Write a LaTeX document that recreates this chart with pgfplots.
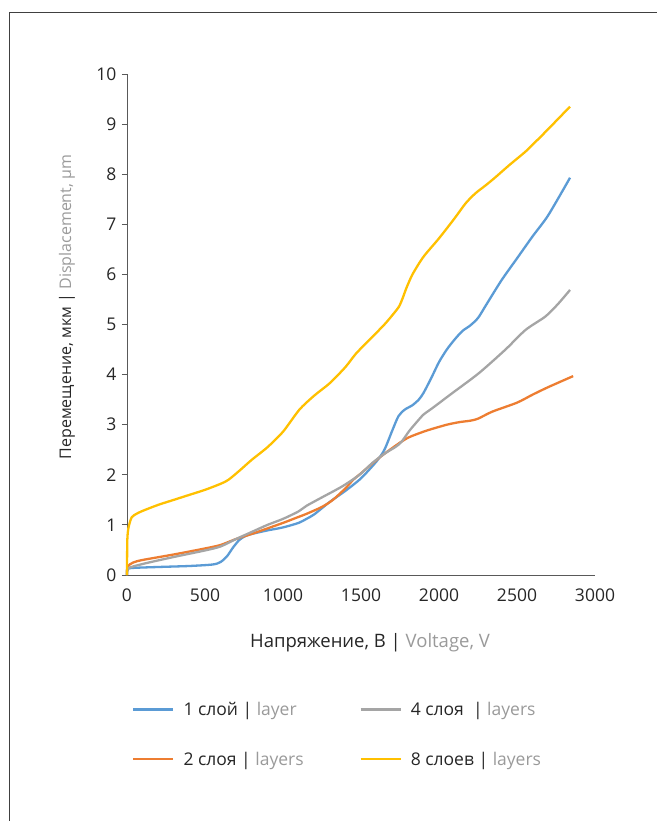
\documentclass[border=0pt]{standalone}
\usepackage{pgfplots}
\pgfplotsset{compat=1.18}
\usepackage{fontspec}
\setmainfont{Open Sans}
\definecolor{c1}{HTML}{5B9BD5}
\definecolor{c2}{HTML}{ED7D31}
\definecolor{c4}{HTML}{A5A5A5}
\definecolor{c8}{HTML}{FFC000}
\definecolor{txt}{HTML}{262626}
\definecolor{ltxt}{HTML}{9A9A9A}
\definecolor{axc}{HTML}{595959}
\begin{document}
\begin{tikzpicture}
\path[use as bounding box] (0pt,0pt) rectangle (656pt,-821pt);
\draw[black!75, line width=1pt] (9.5pt,-830pt) -- (9.5pt,-13pt) -- (670pt,-13pt);
\begin{axis}[
  at={(127pt,-575pt)}, anchor=south west,
  scale only axis, width=468pt, height=501pt,
  xmin=0, xmax=3000, ymin=0, ymax=10,
  axis x line*=bottom, axis y line*=left,
  axis line style={axc, line width=1pt},
  xtick={0,500,...,3000}, ytick={0,1,...,10},
  xtick style={draw=none},
  ytick style={axc, line width=1pt},
  tick align=outside, major tick length=5pt,
  tick label style={font=\fontsize{17.5}{20}\selectfont, text=txt},
  /pgf/number format/assume math mode=true,
  /pgf/number format/1000 sep={},
  scaled ticks=false,
  xticklabel style={yshift=-5pt},
  yticklabel style={xshift=-2pt},
  clip=false,
  every axis plot/.append style={line width=2.3pt, smooth, tension=0.45},
  legend image code/.code={\draw[#1] (0pt,0pt) -- (40pt,0pt); \path (49pt,0pt);},
  legend columns=2,
  legend style={draw=none, fill=none, at={(axis description cs:0.0107,-0.253)}, anchor=north west,
    font=\fontsize{17.5}{20}\selectfont, text=txt, inner sep=0pt, row sep=35pt, column sep=0pt,
    nodes={inner sep=0pt, anchor=west}},
  legend cell align=left,
]
\addplot[c1, forget plot] coordinates {
(0,0) (5,0.11) (30,0.14) (200,0.16) (400,0.18) (550,0.21) (600,0.26) (640,0.37)
(680,0.55) (720,0.70) (760,0.78) (800,0.82) (900,0.89) (1000,0.95) (1100,1.04)
(1150,1.12) (1200,1.21) (1300,1.46) (1400,1.68) (1500,1.93) (1600,2.27) (1650,2.50)
(1700,2.88) (1740,3.17) (1780,3.30) (1830,3.39) (1870,3.50) (1900,3.63) (1950,3.93)
(2000,4.25) (2050,4.50) (2100,4.70) (2150,4.87) (2200,4.98) (2250,5.13) (2300,5.38)
(2400,5.88) (2500,6.32) (2600,6.76) (2700,7.18) (2840,7.93)};
\addplot[c2, forget plot] coordinates {
(0,0) (5,0.17) (40,0.25) (100,0.30) (300,0.41) (500,0.53) (600,0.60) (700,0.72)
(800,0.82) (900,0.93) (1000,1.04) (1100,1.16) (1150,1.22) (1250,1.36) (1320,1.50)
(1400,1.73) (1450,1.90) (1500,2.03) (1574,2.23) (1650,2.42) (1744,2.63) (1808,2.75)
(1900,2.86) (1960,2.92) (2050,3.00) (2128,3.05) (2200,3.08) (2250,3.12) (2341,3.26)
(2500,3.44) (2600,3.60) (2700,3.75) (2860,3.97)};
\addplot[c4, forget plot] coordinates {
(0,0) (5,0.13) (100,0.22) (300,0.36) (500,0.49) (600,0.57) (700,0.72) (800,0.86)
(900,1.00) (1000,1.12) (1100,1.27) (1150,1.38) (1250,1.55) (1380,1.77) (1490,2.00)
(1574,2.24) (1650,2.42) (1723,2.56) (1760,2.66) (1808,2.87) (1851,3.03) (1900,3.20)
(1957,3.33) (2085,3.63) (2256,4.03) (2426,4.50) (2554,4.89) (2682,5.16) (2760,5.40)
(2840,5.69)};
\addplot[c8, forget plot] coordinates {
(0,0) (2,0.70) (10,0.95) (30,1.15) (60,1.22) (100,1.28) (200,1.40) (300,1.50)
(400,1.60) (500,1.70) (600,1.82) (650,1.90) (720,2.08) (800,2.30) (900,2.55)
(1000,2.86) (1105,3.30) (1200,3.58) (1300,3.83) (1400,4.15) (1468,4.42) (1550,4.68)
(1650,5.00) (1702,5.19) (1744,5.36) (1770,5.55) (1790,5.72) (1830,6.00) (1900,6.35)
(2000,6.72) (2100,7.12) (2171,7.42) (2234,7.62) (2300,7.78) (2362,7.94) (2450,8.18)
(2554,8.45) (2620,8.65) (2700,8.90) (2840,9.35)};
\addlegendimage{c1, line width=2.3pt}
\addlegendentry{\makebox[176pt][l]{1 слой | \textcolor{ltxt}{layer}}}
\addlegendimage{c4, line width=2.3pt}
\addlegendentry{4 слоя \ | \textcolor{ltxt}{layers}}
\addlegendimage{c2, line width=2.3pt}
\addlegendentry{\makebox[176pt][l]{2 слоя | \textcolor{ltxt}{layers}}}
\addlegendimage{c8, line width=2.3pt}
\addlegendentry{8 слоев | \textcolor{ltxt}{layers}}
\end{axis}
\node[rotate=90, text=txt, font=\fontsize{16}{19}\selectfont] at (67pt,-307pt)
  {Перемещение, мкм | \textcolor{ltxt}{Displacement, µm}};
\node[text=txt, font=\fontsize{18.5}{22}\selectfont] at (370pt,-643pt)
  {Напряжение, В | \textcolor{ltxt}{Voltage, V}};
\end{tikzpicture}
\end{document}
